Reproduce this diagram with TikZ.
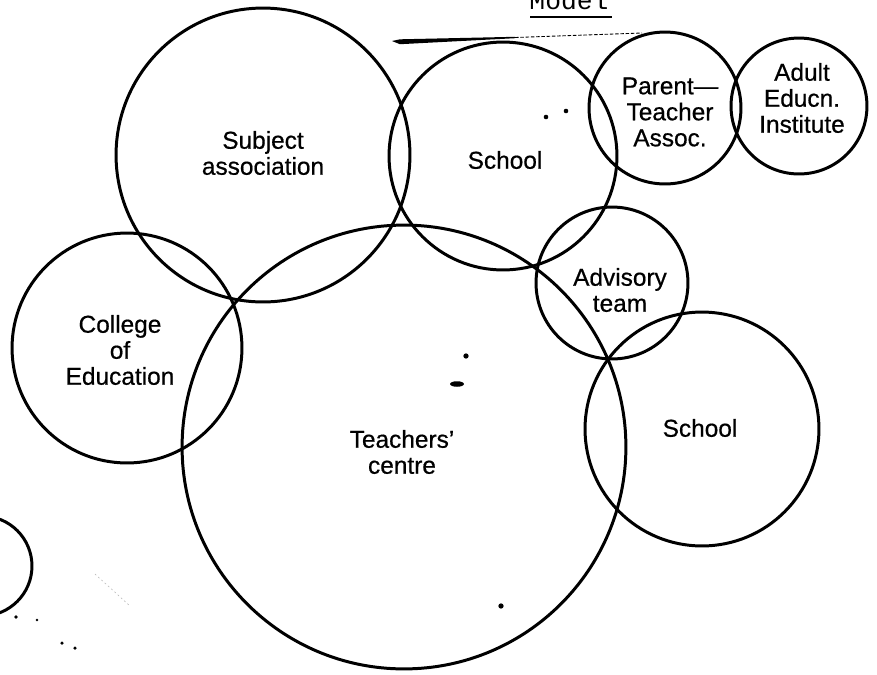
\documentclass[tikz,border=0pt]{standalone}
\usepackage{fontspec}
\setmainfont{Liberation Sans}
\newfontfamily\lblfont{Liberation Sans}[FakeBold=0.6]
\newfontfamily\typefont{Liberation Mono}
\begin{document}
\begin{tikzpicture}[x=0.02cm,y=-0.02cm,
  ring/.style={circle,draw=black,line width=1.7pt,inner sep=0pt,minimum size=#1*0.04cm},
  lbl/.style={align=center,inner sep=0pt,font=\lblfont\fontsize{13.9}{14.8}\selectfont},
  speck/.style={fill=black}]
\useasboundingbox (0,0) rectangle (877,674);
\clip (0,0) rectangle (877,674);
\fill[white] (0,0) rectangle (877,674);

% heading, typed and underlined, cut off at the top edge
\node[font=\typefont\fontsize{15}{15}\selectfont,anchor=base,inner sep=0pt] (model) at (569,9.5) {Model};
\draw[line width=1.1pt] (530,17) -- (612,17);

% tapering rule above the upper school
\fill (392,41) -- (400,39.3) -- (515,36.8) -- (515,38.2) -- (400,44.2) -- cycle;
\draw[line width=0.5pt,dash pattern=on 2pt off 1pt] (515,37.5) -- (642,33);

% the overlapping circles (ring = radius in px)
\node[ring=147] (subj)    at (263,155) {};
\node[ring=114] (school1) at (503,156) {};
\node[ring=76]  (pta)     at (665,108) {};
\node[ring=68]  (adult)   at (799,106) {};
\node[ring=76]  (advis)   at (612,283) {};
\node[ring=117] (school2) at (702,429) {};
\node[ring=115] (college) at (127,348) {};
\node[ring=222] (teach)   at (404,447) {};
\node[ring=50]  (edge)    at (-18,566) {};

% labels
\node[lbl] (subj-t)    at (263,153) {Subject\\association};
\node[lbl] (school1-t) at (505,160) {School};
\node[lbl] (pta-t)     at (670,112) {Parent—\\Teacher\\Assoc.};
\node[lbl] (adult-t)   at (802,98)  {Adult\\Educn.\\Institute};
\node[lbl] (advis-t)   at (620,290) {Advisory\\team};
\node[lbl] (school2-t) at (700,428) {School};
\node[lbl] (college-t) at (120,350) {College\\of\\Education};
\node[lbl] (teach-t)   at (402,452) {Teachers’\\centre};

% ink specks
\fill[speck] (546,117) circle[radius=1.3pt];
\fill[speck] (566,111) circle[radius=1.3pt];
\fill[speck] (466,356) circle[radius=1.5pt];
\fill[speck] (457,384) ellipse[x radius=0.14cm,y radius=0.055cm];
\fill[speck] (501,606) circle[radius=1.5pt];
\fill[speck] (16,617) circle[radius=1.1pt];
\fill[speck] (37,620) circle[radius=0.8pt];
\fill[speck] (62,643) circle[radius=1pt];
\fill[speck] (75,648) circle[radius=1pt];
\draw[gray!60,line width=0.3pt,dash pattern=on 1pt off 1.5pt] (95,574) -- (130,606);
\end{tikzpicture}
\end{document}
